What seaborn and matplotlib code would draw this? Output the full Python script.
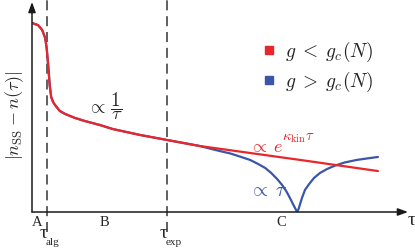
import numpy as np
import pandas as pd
import seaborn as sns
import matplotlib.pyplot as plt
from matplotlib.lines import Line2D

# values (tau in arbitrary units, 0..10 along the axis)
tau_head = [0.00, 0.16, 0.27, 0.35, 0.39, 0.43, 0.47, 0.51, 0.56, 0.61, 0.74,
            0.88, 1.14, 1.41, 1.81, 2.15, 2.87, 3.59, 4.47]
n_head = [0.900, 0.890, 0.867, 0.829, 0.781, 0.700, 0.605, 0.548, 0.524, 0.510,
          0.481, 0.467, 0.448, 0.433, 0.414, 0.395, 0.367, 0.343, 0.314]

tau_red_tail = [5.80, 7.13, 9.20]
n_red_tail = [0.281, 0.248, 0.195]

tau_blue_tail = [4.73, 5.00, 5.27, 5.53, 5.80, 6.01, 6.20, 6.36, 6.52, 6.65, 6.76,
                 6.86, 6.94, 7.01, 7.05, 7.09, 7.13, 7.18, 7.26, 7.37, 7.50, 7.66,
                 7.85, 8.06, 8.32, 8.64, 8.91, 9.20]
n_blue_tail = [0.302, 0.290, 0.279, 0.264, 0.248, 0.229, 0.210, 0.186, 0.157, 0.129, 0.100,
               0.067, 0.038, 0.014, 0.000, 0.014, 0.038, 0.067, 0.105, 0.133, 0.162, 0.186,
               0.205, 0.221, 0.236, 0.248, 0.255, 0.262]

tau_alg = 0.40
tau_exp = 3.59
regions = ['A', 'B', 'C']
region_pos = [0.13, 1.94, 6.62]

red = '#e8262b'
blue = '#3b56a8'

sns.set_style('white')
plt.rcParams['mathtext.fontset'] = 'cm'
plt.rcParams['font.family'] = ['Liberation Serif', 'DejaVu Serif']

fig = plt.figure(figsize=(4.15, 2.5), dpi=100)
ax = fig.add_axes([32 / 415, 38 / 250, 376 / 415, 210 / 250])
ax.set_xlim(0, 10)
ax.set_ylim(0, 1)
for s in ax.spines.values():
    s.set_visible(False)
ax.set_xticks([])
ax.set_yticks([])

df_red = pd.DataFrame({'tau': tau_head + tau_red_tail, 'n': n_head + n_red_tail})
df_blue = pd.DataFrame({'tau': tau_head + tau_blue_tail, 'n': n_head + n_blue_tail})
sns.lineplot(data=df_blue, x='tau', y='n', color=blue, lw=1.6, sort=False, ax=ax)
sns.lineplot(data=df_red, x='tau', y='n', color=red, lw=1.6, sort=False, ax=ax)
ax.set_xlabel('')
ax.set_ylabel('')

# dashed time scales, poking a little below the axis
for t in [tau_alg, tau_exp]:
    ax.axvline(t, ymin=-0.095, ymax=1.01, color='#444444', lw=1.2,
               dashes=(6, 3.5), clip_on=False, zorder=1)

# axes with arrow heads
arrow = dict(arrowstyle='-|>,head_length=0.6,head_width=0.22', color='#1a1a1a', lw=1.1,
             shrinkA=0, shrinkB=0)
ax.annotate('', xy=(1, 0), xytext=(0, 0), xycoords='axes fraction', arrowprops=arrow)
ax.annotate('', xy=(0, 1), xytext=(0, 0), xycoords='axes fraction', arrowprops=arrow)

for lab, x in zip(regions, region_pos):
    ax.text(x, -0.048, lab, fontsize=10.5, ha='center', va='center')
ax.text(9.98, -0.04, 'τ', fontsize=14, ha='left', va='center')
for t, sub in [(tau_alg, 'alg'), (tau_exp, 'exp')]:
    ax.text(t + 0.02, -0.1, 'τ', fontsize=14, ha='right', va='center')
    ax.text(t - 0.04, -0.145, sub, fontsize=8, ha='left', va='center')

ax.text(-0.045, 0.46, r'$|n_{\rm SS}-n(\tau)|$', fontsize=13, rotation=90,
        ha='center', va='center', transform=ax.transAxes)
ax.text(1.47, 0.505, r'$\propto\,\dfrac{1}{\tau}$', fontsize=13.5, ha='left', va='center')
ax.text(5.77, 0.286, r'$\propto\;e$', fontsize=13, color=red, ha='left', va='baseline')
ax.text(6.64, 0.340, r'$\kappa_{\rm kin}\tau$', fontsize=10.5, color=red,
        ha='left', va='baseline')
ax.text(5.77, 0.076, r'$\propto\;\tau$', fontsize=14, color=blue, ha='left', va='baseline')

handles = [Line2D([], [], ls='', marker='s', markersize=6, color=red),
           Line2D([], [], ls='', marker='s', markersize=6, color=blue)]
ax.legend(handles, [r'$g\;<\;g_c(N)$', r'$g\;>\;g_c(N)$'], frameon=False, fontsize=14,
          loc='upper left', bbox_to_anchor=(250 / 415, 1 - 30 / 250),
          bbox_transform=fig.transFigure, borderpad=0, handletextpad=0.3,
          handlelength=1.0, labelspacing=0.3)

fig.savefig('out.png', dpi=100)
